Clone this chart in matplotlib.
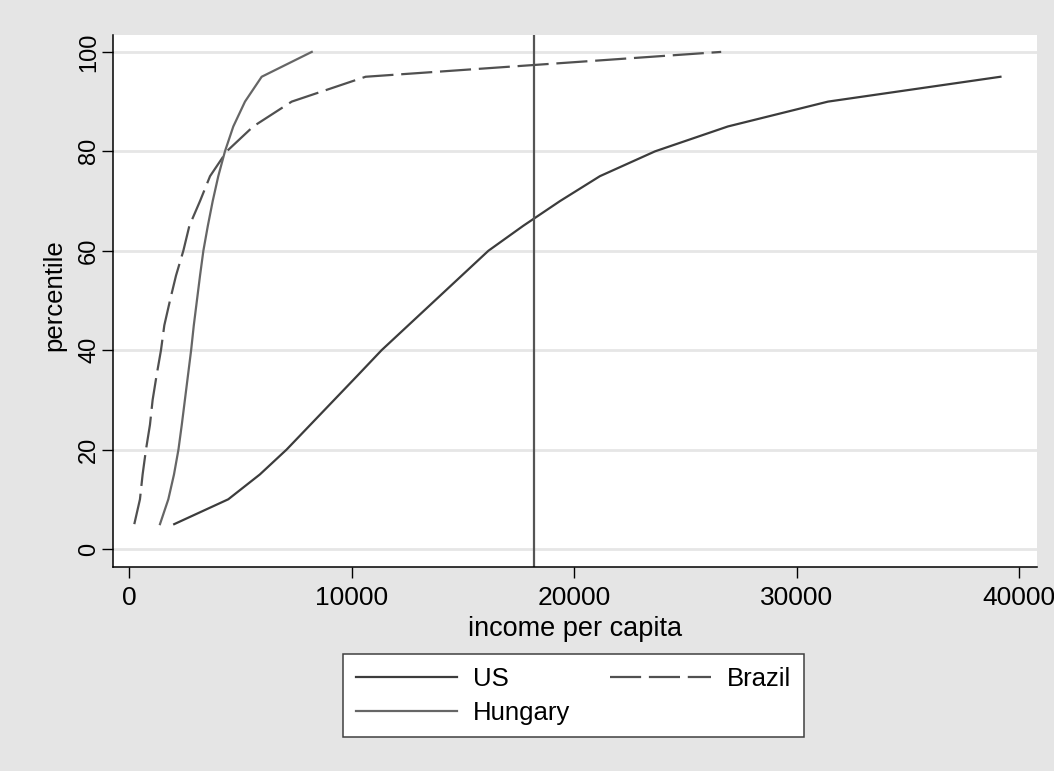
import matplotlib
matplotlib.use("Agg")
import matplotlib.pyplot as plt

plt.rcParams['font.family'] = ['Liberation Sans', 'DejaVu Sans']

# -----------------------------
# Income at each percentile
# -----------------------------

pct_us = [5, 10, 15, 20, 25, 30, 35, 40, 45, 50, 55, 60, 65, 70, 75, 80, 85, 90, 95]
income_us = [2020, 4450, 5870, 7070, 8140, 9210, 10280, 11340, 12540, 13740,
             14940, 16140, 17700, 19360, 21150, 23630, 26900, 31400, 39150]

pct_brazil = [5, 10, 15, 20, 25, 30, 35, 40, 45, 50, 55, 60, 65, 70, 75, 80, 85, 90, 95, 100]
income_brazil = [226, 480, 600, 751, 930, 1050, 1230, 1425, 1575, 1830,
                 2100, 2430, 2700, 3180, 3630, 4380, 5570, 7300, 10620, 26600]

pct_hungary = [5, 10, 15, 20, 25, 30, 35, 40, 45, 50, 55, 60, 65, 70, 75, 80, 85, 90, 95, 100]
income_hungary = [1380, 1755, 2010, 2210, 2360, 2500, 2640, 2780, 2900, 3040,
                  3180, 3330, 3530, 3750, 4000, 4300, 4675, 5200, 5950, 8200]

us_mean = 18200

x_ticks = [0, 10000, 20000, 30000, 40000]
y_ticks = [0, 20, 40, 60, 80, 100]

# -----------------------------
# Plot
# -----------------------------

bg = '#e5e5e5'

fig = plt.figure(figsize=(10.54, 7.71), dpi=100, facecolor=bg)
ax = fig.add_axes([0.1069, 0.265, 0.8767, 0.6896])
ax.set_facecolor('white')

for y in y_ticks:
    ax.axhline(y, color='#e6e6e6', lw=2.0, zorder=0)

l_us, = ax.plot(income_us, pct_us, color='#3c3c3c', lw=1.6, label='US')
l_br, = ax.plot(income_brazil, pct_brazil, color='#505050', lw=1.6,
                dashes=(14, 3.5), label='Brazil')
l_hu, = ax.plot(income_hungary, pct_hungary, color='#666666', lw=1.6,
                label='Hungary')
ax.axvline(us_mean, color='#555555', lw=1.6)

ax.set_xlim(-746, 40780)
ax.set_ylim(-3.56, 103.4)
ax.set_xticks(x_ticks)
ax.set_yticks(y_ticks)
ax.set_xticklabels([str(v) for v in x_ticks])
ax.set_yticklabels([str(v) for v in y_ticks])

for side in ['top', 'right']:
    ax.spines[side].set_visible(False)
for side in ['left', 'bottom']:
    ax.spines[side].set_linewidth(1.1)

ax.tick_params(axis='both', direction='out', length=8, width=1.0,
               colors='black')
ax.tick_params(axis='x', pad=6, labelsize=19)
ax.tick_params(axis='y', pad=1, labelsize=17, labelrotation=90)
for lab in ax.get_yticklabels():
    lab.set_va('center')

ax.set_xlabel('income per capita', fontsize=19.5)
ax.set_ylabel('percentile', fontsize=18.5)
ax.xaxis.set_label_coords(0.5, -0.092)
ax.yaxis.set_label_coords(-0.05, 0.51)

# row-major order: US, Brazil / Hungary
leg = fig.legend([l_us, l_hu, l_br], ['US', 'Hungary', 'Brazil'],
                 loc='center', bbox_to_anchor=(573.9 / 1054, 1 - 695.7 / 771),
                 ncol=2, fontsize=18.5, frameon=True, fancybox=False,
                 handlelength=3.9, handletextpad=0.65, columnspacing=1.55,
                 labelspacing=0.38, borderpad=0.5)
leg.get_frame().set_edgecolor('#404040')
leg.get_frame().set_linewidth(1.1)
leg.get_frame().set_facecolor('white')
leg.get_frame().set_alpha(1)

fig.savefig('out.png', dpi=100, facecolor=bg)
